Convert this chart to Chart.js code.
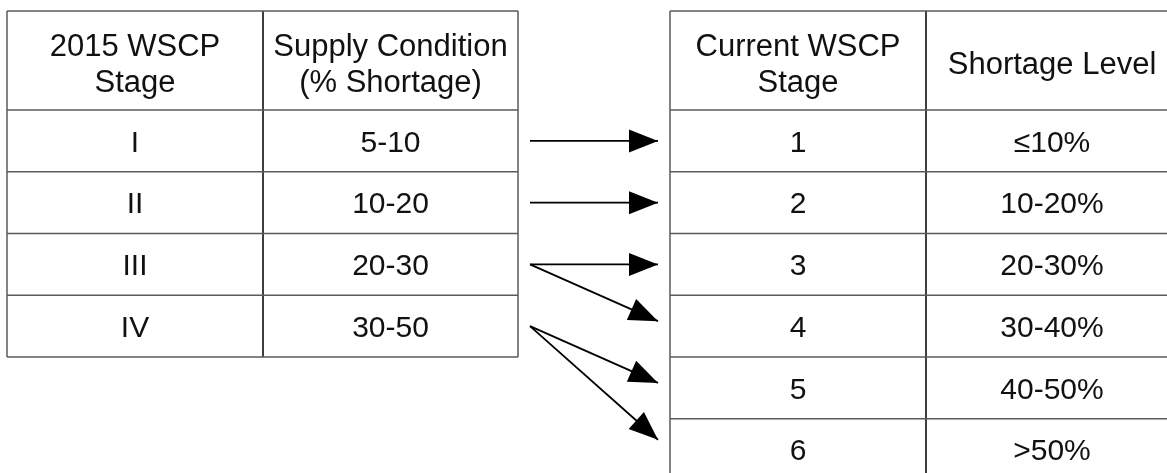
<!DOCTYPE html>
<html>
<head>
<meta charset="utf-8">
<script src="https://cdn.jsdelivr.net/npm/chart.js@4/dist/chart.umd.min.js"></script>
<style>
  html, body { margin: 0; padding: 0; background: #ffffff; }
  #c { display: block; }
</style>
</head>
<body>
<canvas id="c" width="1167" height="473"></canvas>
<script>
// ---- data ----
const leftHeaders = ['2015 WSCP\nStage', 'Supply Condition\n(% Shortage)'];
const leftStages = ['I', 'II', 'III', 'IV'];
const leftSupply = ['5-10', '10-20', '20-30', '30-50'];
const rightHeaders = ['Current WSCP\nStage', 'Shortage Level'];
const rightStages = ['1', '2', '3', '4', '5', '6'];
const rightLevels = ['\u226410%', '10-20%', '20-30%', '30-40%', '40-50%', '>50%'];
// arrows: [left row index, right row index]
const mapping = [[0, 0], [1, 1], [2, 2], [2, 3], [3, 4], [3, 5]];

// ---- geometry (chart value space == pixel space) ----
const W = 1167, H = 473;
const TOP = 11, HEAD_BOTTOM = 110, ROW_H = 61.75;
const leftCols = [7, 263, 518];
const rightCols = [670, 926, 1178];
const ARROW_X0 = 530, ARROW_X1 = 658;
const FONT = '30px "Liberation Sans", Arial, sans-serif';
const HEAD_FONT = '31px "Liberation Sans", Arial, sans-serif';
const TEXT_COLOR = '#111111';
const BORDER = '#5a5a5a';

function rowTop(i) { return HEAD_BOTTOM + i * ROW_H; }
function rowCenter(i) { return HEAD_BOTTOM + (i + 0.5) * ROW_H; }

function seg(x0, y0, x1, y1, color, width) {
  return {
    type: 'scatter', showLine: true,
    data: [{x: x0, y: y0}, {x: x1, y: y1}],
    borderColor: color, borderWidth: width,
    pointRadius: 0, pointHoverRadius: 0, fill: false, tension: 0
  };
}

function tableLines(cols, nRows) {
  const ds = [];
  const bottom = rowTop(nRows);
  ds.push(seg(cols[0], TOP, cols[cols.length - 1], TOP, BORDER, 1.5));
  for (let i = 0; i <= nRows; i++) {
    ds.push(seg(cols[0], rowTop(i), cols[cols.length - 1], rowTop(i), BORDER, 1.5));
  }
  ds.push(seg(cols[0], TOP, cols[0], bottom, BORDER, 1.5));
  ds.push(seg(cols[cols.length - 1], TOP, cols[cols.length - 1], bottom, BORDER, 1.5));
  for (let c = 1; c < cols.length - 1; c++) {
    ds.push(seg(cols[c], TOP, cols[c], bottom, '#000000', 1.5));
  }
  return ds;
}

const arrows = mapping.map(([l, r]) => {
  const y0 = rowCenter(l);
  const yc = rowCenter(r);
  const y1 = y0 + (yc - y0) * 0.92;
  return {x0: ARROW_X0, y0: y0, x1: ARROW_X1, y1: y1};
});

const datasets = []
  .concat(tableLines(leftCols, leftStages.length))
  .concat(tableLines(rightCols, rightStages.length))
  .concat(arrows.map(a => seg(a.x0, a.y0, a.x1, a.y1, '#000000', 1.8)));

const cellTextPlugin = {
  id: 'cellText',
  afterDatasetsDraw(chart) {
    const ctx = chart.ctx;
    const xs = chart.scales.x, ys = chart.scales.y;
    ctx.save();
    ctx.fillStyle = TEXT_COLOR;
    ctx.textAlign = 'center';
    ctx.textBaseline = 'alphabetic';
    const lineH = 36, headCenter = 62.5;

    function drawCell(text, cx, cy, font, capHalf) {
      ctx.font = font;
      const lines = text.split('\n');
      const n = lines.length;
      lines.forEach((ln, k) => {
        const yy = cy + (k - (n - 1) / 2) * lineH + capHalf;
        ctx.fillText(ln, xs.getPixelForValue(cx), ys.getPixelForValue(yy));
      });
    }
    function drawTable(cols, headers, colA, colB) {
      headers.forEach((h, c) => drawCell(h, (cols[c] + cols[c + 1]) / 2, headCenter, HEAD_FONT, 11.1));
      colA.forEach((t, i) => drawCell(t, (cols[0] + cols[1]) / 2, rowCenter(i), FONT, 10.7));
      colB.forEach((t, i) => drawCell(t, (cols[1] + cols[2]) / 2, rowCenter(i), FONT, 10.7));
    }
    drawTable(leftCols, leftHeaders, leftStages, leftSupply);
    drawTable(rightCols, rightHeaders, rightStages, rightLevels);

    // arrowheads
    ctx.fillStyle = '#000000';
    const headLen = 29, headHalf = 11.5;
    arrows.forEach(a => {
      const px0 = xs.getPixelForValue(a.x0), py0 = ys.getPixelForValue(a.y0);
      const px1 = xs.getPixelForValue(a.x1), py1 = ys.getPixelForValue(a.y1);
      const dx = px1 - px0, dy = py1 - py0;
      const len = Math.hypot(dx, dy);
      const ux = dx / len, uy = dy / len;
      const bx = px1 - ux * headLen, by = py1 - uy * headLen;
      ctx.beginPath();
      ctx.moveTo(px1, py1);
      ctx.lineTo(bx - uy * headHalf, by + ux * headHalf);
      ctx.lineTo(bx + uy * headHalf, by - ux * headHalf);
      ctx.closePath();
      ctx.fill();
    });
    ctx.restore();
  }
};

new Chart(document.getElementById('c'), {
  type: 'scatter',
  data: { datasets: datasets },
  options: {
    responsive: false,
    animation: false,
    devicePixelRatio: 1,
    layout: { padding: 0 },
    events: [],
    plugins: { legend: { display: false }, tooltip: { enabled: false }, title: { display: false } },
    scales: {
      x: { type: 'linear', min: 0, max: W, display: false },
      y: { type: 'linear', min: 0, max: H, reverse: true, display: false }
    }
  },
  plugins: [cellTextPlugin]
});
</script>
</body>
</html>
